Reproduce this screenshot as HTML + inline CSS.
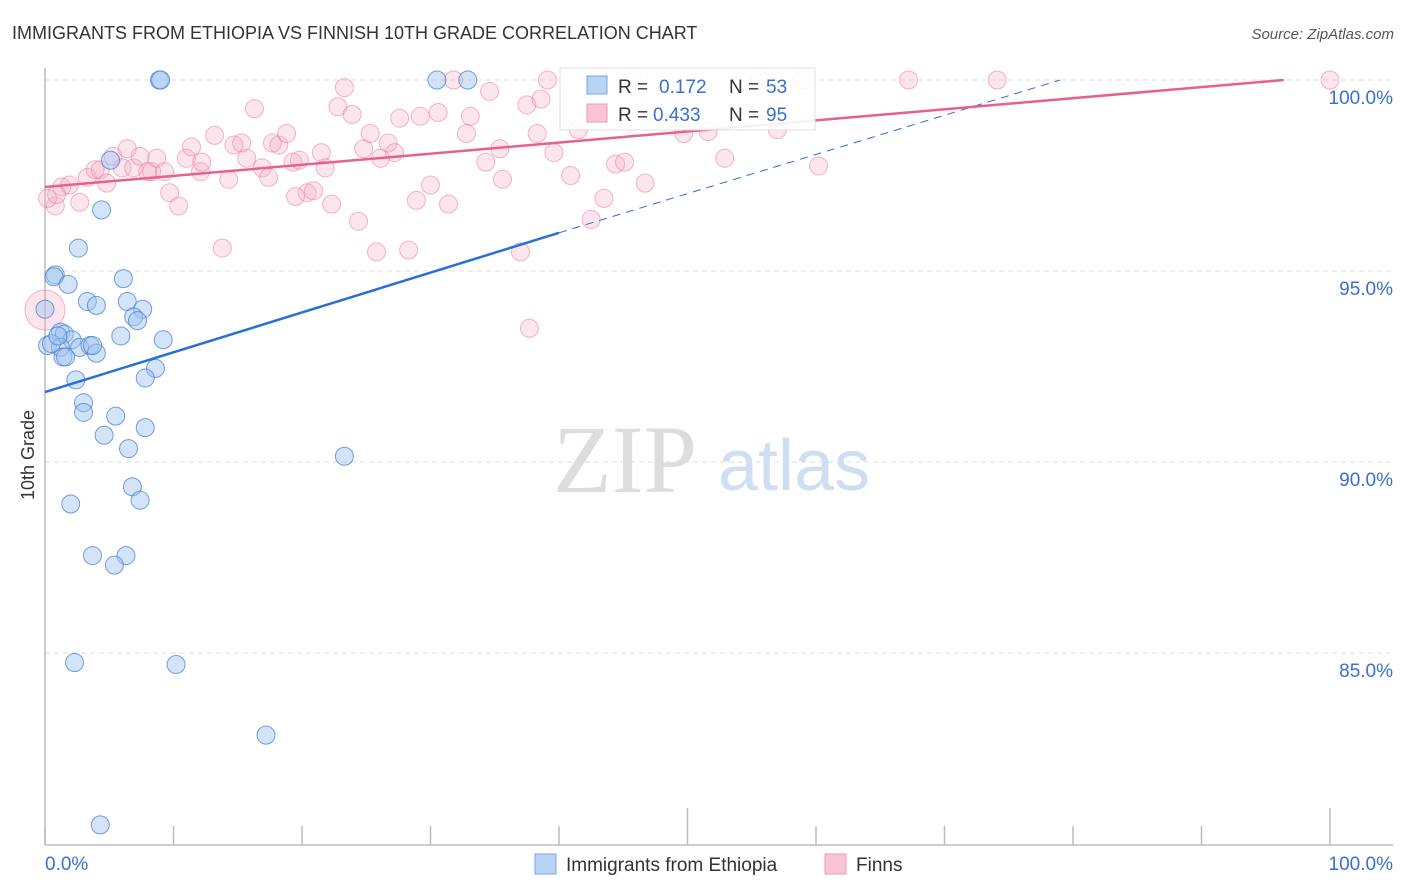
<!DOCTYPE html>
<html><head><meta charset="utf-8"><style>
html,body{margin:0;background:#fff;font-family:"Liberation Sans",sans-serif;overflow:hidden;width:1406px;height:892px;}
svg{display:block;}
</style></head><body>
<svg width="1406" height="892" viewBox="0 0 1406 892" xmlns="http://www.w3.org/2000/svg">
<defs><clipPath id="plotclip"><rect x="0" y="60" width="1406" height="786"/></clipPath></defs>
<text x="12" y="39" font-size="18" fill="#333">IMMIGRANTS FROM ETHIOPIA VS FINNISH 10TH GRADE CORRELATION CHART</text>
<text x="1394" y="39" font-size="15" fill="#555" font-style="italic" text-anchor="end">Source: ZipAtlas.com</text>
<g>
<text x="553" y="492" font-size="96" fill="#ddd" font-family="Liberation Serif,serif">ZIP</text>
<text x="718" y="490" font-size="72" fill="#cfdff2">atlas</text>
</g>
<g id="grid"></g>
<g id="axes"></g>
<g id="marks" clip-path="url(#plotclip)"></g>
<g>
<rect x="560" y="68" width="255" height="62" fill="#fff" stroke="#ddd" opacity="0.9"/>
<rect x="587" y="76" width="20" height="18" fill="#b9d3f5" stroke="#7aa6e0"/>
<rect x="587" y="104" width="20" height="18" fill="#f9c5d4" stroke="#ee9ab5"/>
<text y="93" font-size="19" fill="#333"><tspan x="618">R =</tspan><tspan x="659" fill="#3a6fd0">0.172</tspan><tspan x="729">N =</tspan><tspan x="766" fill="#3a6fd0">53</tspan></text>
<text y="121" font-size="19" fill="#333"><tspan x="618">R =</tspan><tspan x="653" fill="#3a6fd0">0.433</tspan><tspan x="729">N =</tspan><tspan x="766" fill="#3a6fd0">95</tspan></text>
</g>
<g>
<rect x="535" y="854" width="21" height="20" fill="#b9d3f5" stroke="#7aa6e0"/>
<text x="566" y="871" font-size="19" fill="#333">Immigrants from Ethiopia</text>
<rect x="825" y="854" width="21" height="20" fill="#f9c5d4" stroke="#ee9ab5"/>
<text x="856" y="871" font-size="19" fill="#333">Finns</text>
</g>
<text transform="translate(34,455) rotate(-90)" font-size="18" fill="#333" text-anchor="middle">10th Grade</text>
</svg>
<script>
const yTicks=[100,95,90,85];
const yTickLabels=["100.0%","95.0%","90.0%","85.0%"];
const xTickLabels=["0.0%","100.0%"];
const blueX=[8.9,9.0,30.5,32.9,5.1,4.4,2.6,0.8,0.7,1.8,6.1,3.3,6.4,4.0,7.6,6.9,7.2,0,1.2,1.5,2.1,5.9,9.2,0.2,1.2,2.7,3.5,4.0,1.4,1.6,8.6,7.8,2.4,3.0,3.0,5.5,4.6,7.8,6.5,23.3,6.8,7.4,2.0,3.7,6.3,5.4,2.3,10.2,17.2,4.3,3.7,0.5,1.0];
const blueY=[100,100,100,100,97.9,96.6,95.6,94.9,94.85,94.65,94.8,94.2,94.2,94.1,94.0,93.8,93.7,94.0,93.4,93.35,93.2,93.3,93.2,93.05,93.0,93.0,93.05,92.85,92.75,92.75,92.45,92.2,92.15,91.55,91.3,91.2,90.7,90.9,90.35,90.15,89.35,89.0,88.9,87.55,87.55,87.3,84.75,84.7,82.85,80.5,93.05,93.1,93.3];
const pinkX=[0.8,1.3,1.9,2.7,3.3,3.9,4.3,4.8,5.3,6.4,6.0,6.9,7.4,8.0,8.3,8.7,9.3,9.7,10.4,11.0,11.4,12.1,12.2,13.2,13.8,14.3,14.7,15.3,15.7,16.3,16.9,17.4,17.7,18.2,18.8,19.3,19.8,20.4,20.9,21.5,21.8,22.3,22.8,23.3,23.9,24.4,24.8,25.3,25.8,26.1,26.7,27.2,27.6,28.3,28.9,29.2,30.0,30.6,31.4,31.8,32.8,33.1,34.3,34.6,35.4,35.6,37.0,37.5,37.7,38.3,38.6,39.1,39.6,40.9,41.5,42.5,43.5,44.4,45.1,45.8,49.7,51.6,52.9,55.6,57.0,58.9,60.2,67.2,74.1,100,46.7,0,0.2,0.9,19.5];
const pinkY=[96.7,97.2,97.25,96.8,97.45,97.65,97.65,97.3,98.0,98.2,97.7,97.7,98.0,97.6,97.6,97.95,97.6,97.05,96.7,97.95,98.25,97.6,97.85,98.55,95.6,97.4,98.3,98.35,97.95,99.25,97.7,97.45,98.35,98.3,98.6,97.85,97.9,97.05,97.1,98.1,97.7,96.75,99.3,99.8,99.1,96.3,98.2,98.6,95.5,97.95,98.35,98.1,99.0,95.55,96.85,99.05,97.25,99.15,96.75,100,98.6,99.05,97.85,99.7,98.2,97.4,95.5,99.35,93.5,98.6,99.5,100,98.1,97.5,98.7,96.35,96.9,97.8,97.85,100,98.6,98.65,97.95,100,98.7,100,97.75,100,100,100,97.3,93.98,96.9,97.0,96.95];
const blueTrend=[0,91.83,40,96.0,79,100];
const pinkTrend=[0,97.2,96.4,100];
const NS="http://www.w3.org/2000/svg";
const X0=45,X1=1330,Y100=80,PPP=38.2;
function sx(v){return X0+(X1-X0)*v/100;}
function sy(v){return Y100+(100-v)*PPP;}
function mk(tag,attrs,parent){const e=document.createElementNS(NS,tag);for(const k in attrs)e.setAttribute(k,attrs[k]);document.getElementById(parent).appendChild(e);return e;}
yTicks.forEach((t,i)=>{
 const g=mk('line',{x1:X0,x2:1393,y1:sy(t),y2:sy(t),stroke:'#ddd','stroke-dasharray':'5,4'},'grid');
 
 
 const l=mk('text',{x:1393,y:sy(t)+24,'font-size':19,fill:'#3a6fd0','text-anchor':'end'},'axes');
 l.textContent=yTickLabels[i];
 
 
});
const ax=mk('line',{x1:X0,x2:X0,y1:68,y2:845,stroke:'#bbb','stroke-width':1.5},'axes');


const bx=mk('line',{x1:X0,x2:1393,y1:845,y2:845,stroke:'#bbb','stroke-width':1.5},'axes');


for(let i=0;i<=10;i++){
 const major=(i==5||i==10);
 const t=mk('line',{x1:sx(i*10),x2:sx(i*10),y1:major?808:826,y2:845,stroke:'#bbb','stroke-width':1.5},'axes');
 
 
}
const xl0=mk('text',{x:45,y:870,'font-size':19,fill:'#3a6fd0'},'axes');xl0.textContent=xTickLabels[0];


const xl1=mk('text',{x:1393,y:870,'font-size':19,fill:'#3a6fd0','text-anchor':'end'},'axes');xl1.textContent=xTickLabels[1];


pinkX.forEach((x,i)=>{
 const big=(i==pinkX.length-4);
 const c=mk('circle',{cx:sx(x),cy:sy(pinkY[i]),r:big?20:9,fill:'rgba(246,170,195,0.3)',stroke:'rgba(234,120,160,0.55)','stroke-width':1},'marks');
 
 
});
blueX.forEach((x,i)=>{
 const c=mk('circle',{cx:sx(x),cy:sy(blueY[i]),r:9,fill:'rgba(160,196,240,0.45)',stroke:'rgba(60,120,210,0.7)','stroke-width':1},'marks');
 
 
});
const bt=mk('line',{x1:sx(blueTrend[0]),y1:sy(blueTrend[1]),x2:sx(blueTrend[2]),y2:sy(blueTrend[3]),stroke:'#2a6fd6','stroke-width':2.5},'marks');


const bd=mk('line',{x1:sx(blueTrend[2]),y1:sy(blueTrend[3]),x2:sx(blueTrend[4]),y2:sy(blueTrend[5]),stroke:'#2a6fd6','stroke-width':1,'stroke-dasharray':'8,6'},'marks');


const pt=mk('line',{x1:sx(pinkTrend[0]),y1:sy(pinkTrend[1]),x2:sx(pinkTrend[2]),y2:sy(pinkTrend[3]),stroke:'#e8608c','stroke-width':2.5},'marks');


</script>
</body></html>
